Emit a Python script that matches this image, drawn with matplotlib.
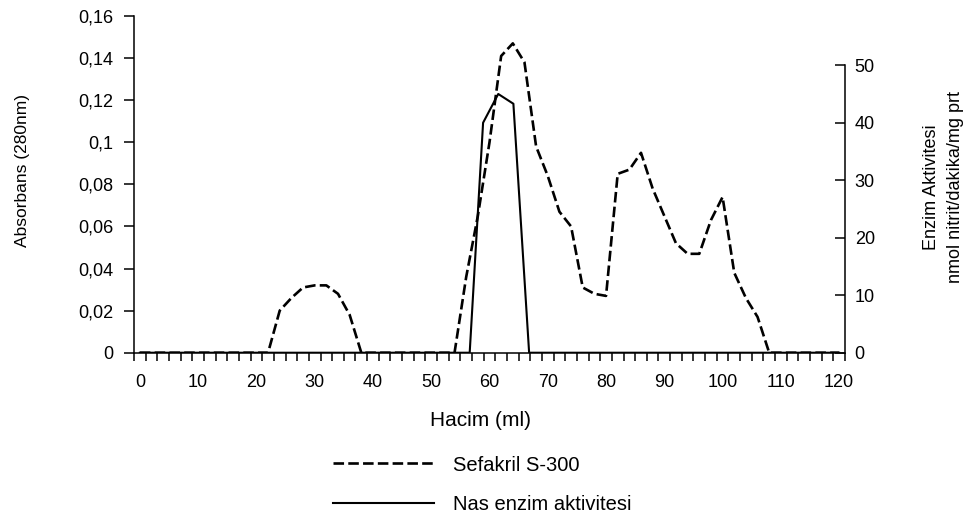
import matplotlib.pyplot as plt

plt.rcParams['font.family'] = ['Liberation Sans', 'DejaVu Sans']

# elution volume (ml), one fraction every 2 ml
hacim = list(range(0, 122, 2))
# absorbance at 280 nm, Sefakril S-300 column
absorbans = [0, 0, 0, 0, 0, 0, 0, 0, 0, 0, 0,          # 0-20
             0, 0.020, 0.026, 0.031, 0.032, 0.032,      # 22-32
             0.028, 0.018, 0, 0, 0, 0, 0, 0, 0, 0,      # 34-52
             0, 0.036, 0.065, 0.100, 0.141, 0.147,      # 54-64
             0.138, 0.098, 0.084, 0.067, 0.060, 0.031,  # 66-76
             0.028, 0.027, 0.085, 0.087, 0.095, 0.078,  # 78-88
             0.065, 0.052, 0.047, 0.047, 0.063, 0.074,  # 90-100
             0.038, 0.026, 0.017, 0, 0, 0, 0, 0, 0, 0]  # 102-120

# NaS enzyme activity (nmol nitrit/dakika/mg prt)
aktivite_hacim = [0, 56.6, 58.9, 61.5, 64.1, 66.8, 120]
aktivite = [0, 0, 40, 45, 43.3, 0, 0]

fig = plt.figure(figsize=(9.72, 5.15), dpi=100)
ax = fig.add_axes([0.1379, 0.3151, 0.7314, 0.6538])
ax2 = ax.twinx()

ax.plot(hacim, absorbans, color='black', lw=1.9,
        linestyle=(0, (4, 1.6)), label='Sefakril S-300')
ax2.plot(aktivite_hacim, aktivite, color='black', lw=1.5,
         label='Nas enzim aktivitesi')

ax.set_xlim(-1, 121)
ax.set_ylim(0, 0.16)
ax2.set_ylim(0, 58.56)

ax.set_xticks(range(0, 121, 10))
ax.set_xticks(range(-1, 122, 2), minor=True)
ax.tick_params(axis='x', which='major', length=0, pad=15, labelsize=13)
ax.tick_params(axis='x', which='minor', length=6, width=1.1, direction='out')

yt = [0, 0.02, 0.04, 0.06, 0.08, 0.1, 0.12, 0.14, 0.16]
ax.set_yticks(yt)
ax.set_yticklabels(['0' if v == 0 else f'{v:g}'.replace('.', ',') for v in yt])
ax.tick_params(axis='y', length=7, width=1.1, direction='out', labelsize=13, pad=8)

ax2.set_yticks(range(0, 51, 10))
ax2.tick_params(axis='y', length=7, width=1.1, direction='in', labelsize=13, pad=7)

for a in (ax, ax2):
    a.spines['top'].set_visible(False)
    for s in a.spines.values():
        s.set_linewidth(1.1)
ax.spines['right'].set_visible(False)
ax2.spines['left'].set_visible(False)
ax2.spines['bottom'].set_visible(False)
ax2.spines['right'].set_bounds(0, 50)

ax.set_xlabel('Hacim (ml)', fontsize=15)
ax.xaxis.set_label_coords(0.488, -0.173)
ax.set_ylabel('Absorbans (280nm)', fontsize=12.5)
ax.yaxis.set_label_coords(-0.146, 0.54)
fig.text(0.971, 0.637, 'Enzim Aktivitesi\nnmol nitrit/dakika/mg prt',
         rotation=90, ha='center', va='center', fontsize=13, linespacing=1.55)

h1, l1 = ax.get_legend_handles_labels()
h2, l2 = ax2.get_legend_handles_labels()
fig.legend(h1 + h2, l1 + l2, loc='center left', bbox_to_anchor=(0.343, 0.059),
           frameon=False, fontsize=14.5, handlelength=5.0, handletextpad=0.95,
           labelspacing=1.0, borderpad=0, borderaxespad=0)

fig.savefig('out.png', dpi=100)
